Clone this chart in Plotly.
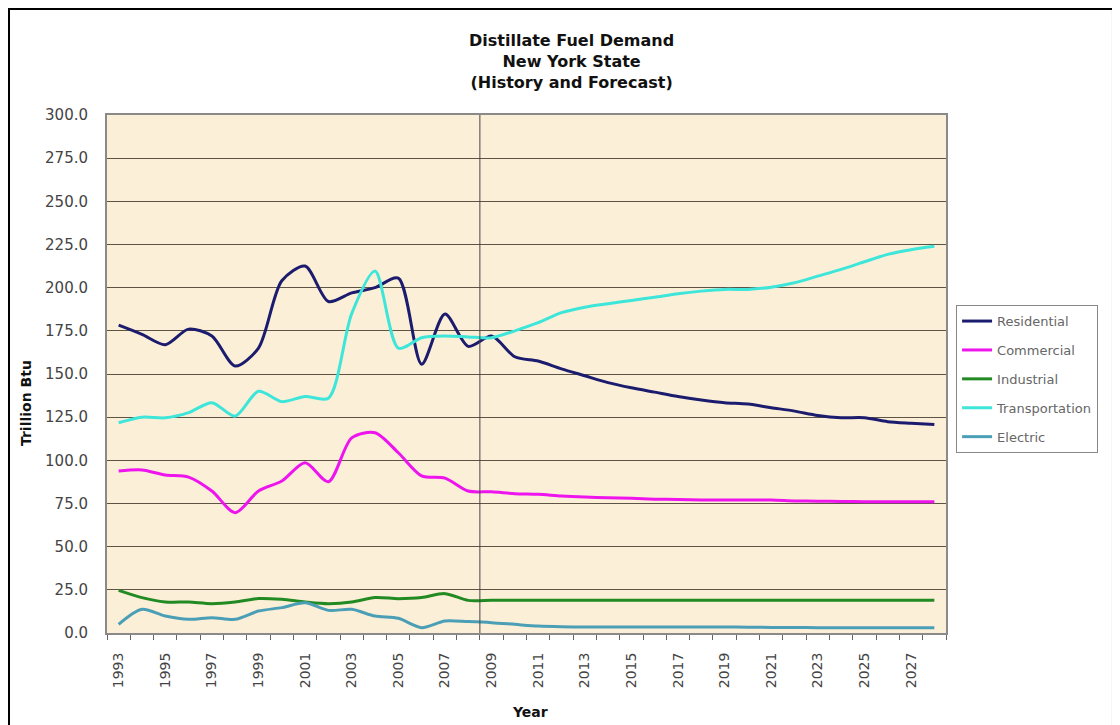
import plotly.graph_objects as go

years = list(range(1993, 2029))

residential = [178.3, 173, 167, 176, 172, 154.6, 165, 204, 212.5, 192, 197, 200, 205.5, 155.7, 184.7, 166,
               172, 160, 157.5, 153, 149, 145, 142, 139.5, 137, 135, 133.4, 132.6, 130.5, 128.5, 126, 124.7,
               124.7, 122.4, 121.5, 120.8]
commercial = [93.8, 94.4, 91.5, 90.3, 82.2, 69.7, 82.2, 88, 98.6, 87.6, 113, 116, 104.4, 91, 89.7, 82.2,
              81.8, 80.7, 80.3, 79.3, 78.7, 78.4, 78, 77.5, 77.3, 77, 77, 77, 77, 76.5, 76.3, 76.2,
              76, 76, 76, 76]
industrial = [24.7, 20.5, 18, 17.9, 17, 18, 20, 19.5, 18, 17, 17.9, 20.5, 19.9, 20.5, 22.8, 18.9,
              19, 19, 19, 19, 19, 19, 19, 19, 19, 19, 19, 19, 19, 19, 19, 19,
              19, 19, 19, 19]
transportation = [121.8, 125, 124.6, 127.6, 133.4, 125.6, 140, 134, 137, 136, 185, 209.6, 165, 171, 172, 171.5,
                  171, 175, 179.7, 185.5, 188.7, 190.7, 192.6, 194.5, 196.5, 198, 199, 199, 200.3, 202.8, 206.7, 210.6,
                  215, 219.3, 222, 224]
electric = [5, 13.7, 9.8, 7.9, 8.9, 7.9, 12.7, 14.7, 17.5, 13.1, 13.7, 9.8, 8.5, 3.1, 7, 6.6,
            6, 5, 4, 3.6, 3.5, 3.5, 3.5, 3.5, 3.5, 3.5, 3.5, 3.4, 3.2, 3.2, 3.1, 3.1,
            3.0, 3.0, 3.0, 3.0]

series = [
    ("Residential", residential, "#1c1c6e"),
    ("Commercial", commercial, "#ee14ee"),
    ("Industrial", industrial, "#228a22"),
    ("Transportation", transportation, "#3ee6da"),
    ("Electric", electric, "#4a9fb6"),
]

tick_years = list(range(1993, 2029, 2))
y_ticks = list(range(0, 301, 25))

fig = go.Figure()
for name, vals, col in series:
    fig.add_trace(go.Scatter(x=years, y=vals, name=name, mode="lines", legendgroup=name,
                             line=dict(color=col, width=3, shape="spline", smoothing=0.8)))

font_family = "DejaVu Sans, Arial, sans-serif"

fig.update_layout(
    width=1120, height=725,
    margin=dict(l=99, r=182, t=107, b=100),
    paper_bgcolor="white",
    plot_bgcolor="#fcefd8",
    font=dict(family=font_family, size=12, color="#222"),
    showlegend=True,
    legend=dict(x=1.012, y=0.633, xanchor="left", yanchor="top",
                bgcolor="white", bordercolor="#888", borderwidth=1,
                itemwidth=30,
                font=dict(size=13, color="#666"), tracegroupgap=9),
)

fig.update_xaxes(
    range=[1992.5, 2028.5],
    tickmode="array", tickvals=tick_years, ticktext=[str(y) for y in tick_years],
    tickangle=-90, ticks="", showgrid=False, zeroline=False,
    showline=True, linecolor="#8a8a8a", linewidth=2, mirror=True,
    tickfont=dict(size=14, color="#444"), ticklabelstandoff=12,
    minor=dict(ticks="outside", tick0=1992.5, dtick=1, ticklen=5, tickcolor="#666", showgrid=False),
)
fig.update_yaxes(
    range=[0, 300], tickmode="array", tickvals=y_ticks,
    ticktext=[f"{v:.1f}" for v in y_ticks],
    showgrid=True, gridcolor="#5e5446", gridwidth=1, zeroline=False,
    showline=True, linecolor="#8a8a8a", linewidth=2, mirror=True,
    ticks="", tickfont=dict(size=15, color="#444"), ticklabelstandoff=14,
)

# forecast divider
fig.add_shape(type="line", xref="x", yref="y", x0=2008.5, x1=2008.5, y0=0, y1=300,
              line=dict(color="#444", width=1))

# outer frame
fig.add_shape(type="rect", xref="paper", yref="paper",
              x0=-0.1168, x1=1.199, y0=-0.19, y1=1.2046,
              line=dict(color="black", width=2), fillcolor="rgba(0,0,0,0)")

fig.add_annotation(xref="paper", yref="paper", x=0.554, y=1.103, xanchor="center", yanchor="middle",
                   text="<b>Distillate Fuel Demand<br>New York State<br>(History and Forecast)</b>",
                   showarrow=False, font=dict(size=16, color="#111", family=font_family))
fig.add_annotation(xref="paper", yref="paper", x=-0.0965, y=0.444, xanchor="center", yanchor="middle",
                   text="<b>Trillion Btu</b>", textangle=-90,
                   showarrow=False, font=dict(size=14, color="#111", family=font_family))
fig.add_annotation(xref="paper", yref="paper", x=0.504, y=-0.1525, xanchor="center", yanchor="middle",
                   text="<b>Year</b>", showarrow=False, font=dict(size=14, color="#111", family=font_family))

fig.write_html("out.html")
